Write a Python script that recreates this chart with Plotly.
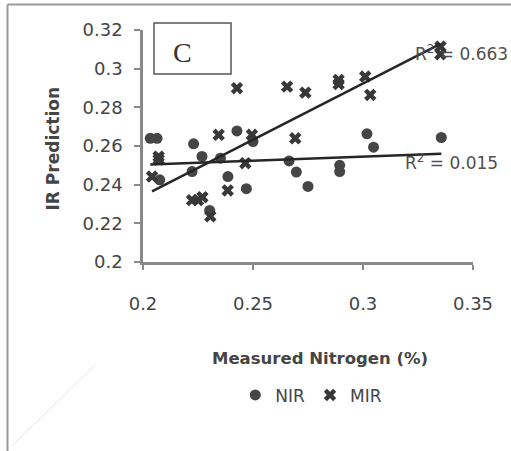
import numpy as np
import plotly.graph_objects as go

# ---- data ----
nir_x = [0.2033, 0.2064, 0.2076, 0.2223, 0.2230, 0.2268, 0.2303, 0.2352, 0.2386, 0.2427,
         0.2470, 0.2500, 0.2664, 0.2697, 0.2750, 0.2894, 0.2894, 0.3018, 0.3048, 0.3356]
nir_y = [0.2640, 0.2640, 0.2425, 0.2468, 0.2611, 0.2546, 0.2267, 0.2537, 0.2442, 0.2678,
         0.2379, 0.2623, 0.2523, 0.2465, 0.2391, 0.2500, 0.2468, 0.2663, 0.2594, 0.2644]

mir_x = [0.2041, 0.2071, 0.2071, 0.2223, 0.2250, 0.2270, 0.2306, 0.2344, 0.2385, 0.2427,
         0.2465, 0.2495, 0.2655, 0.2692, 0.2738, 0.2889, 0.2889, 0.3010, 0.3033, 0.3352, 0.3352]
mir_y = [0.2442, 0.2545, 0.2530, 0.2320, 0.2320, 0.2335, 0.2236, 0.2658, 0.2370, 0.2899,
         0.2511, 0.2658, 0.2907, 0.2640, 0.2876, 0.2942, 0.2920, 0.2959, 0.2864, 0.3114, 0.3075]

r2_labels = ["R<sup>2</sup> = 0.663", "R<sup>2</sup> = 0.015"]
x_ticks = [0.2, 0.25, 0.3, 0.35]
x_tick_text = ["0.2", "0.25", "0.3", "0.35"]
y_ticks = [0.2, 0.22, 0.24, 0.26, 0.28, 0.3, 0.32]
y_tick_text = ["0.2", "0.22", "0.24", "0.26", "0.28", "0.3", "0.32"]
panel_label = "C"
x_title = "Measured Nitrogen (%)"
y_title = "IR Prediction"

FONT = "DejaVu Sans"
TXT = "#454545"
AX = "#8a8a8a"
MK = "#454545"

def fit_line(xs, ys):
    xs = np.asarray(xs); ys = np.asarray(ys)
    m, b = np.polyfit(xs, ys, 1)
    xx = np.array([xs.min(), xs.max()])
    return xx, m * xx + b

fig = go.Figure()
fig.add_trace(go.Scatter(x=nir_x, y=nir_y, mode="markers", name="NIR",
                         marker=dict(symbol="circle", size=11, color=MK)))
fig.add_trace(go.Scatter(x=mir_x, y=mir_y, mode="markers", name="MIR",
                         marker=dict(symbol="x", size=11, color="#383838")))
lx, ly = fit_line(mir_x, mir_y)
fig.add_trace(go.Scatter(x=lx, y=ly, mode="lines", showlegend=False,
                         line=dict(color="#262626", width=2.5)))
lx, ly = fit_line(nir_x, nir_y)
fig.add_trace(go.Scatter(x=lx, y=ly, mode="lines", showlegend=False,
                         line=dict(color="#262626", width=2.5)))

fig.update_layout(
    width=511, height=451,
    margin=dict(l=143, r=38, t=30, b=189),
    paper_bgcolor="white", plot_bgcolor="white",
    font=dict(family=FONT, size=17, color=TXT),
    showlegend=True,
    legend=dict(orientation="h", x=0.51, xanchor="center", y=-0.575, yanchor="middle",
                font=dict(family=FONT, size=17, color=TXT), itemwidth=30,
                bgcolor="rgba(0,0,0,0)"),
    xaxis=dict(range=[0.2, 0.35], tickvals=x_ticks, ticktext=x_tick_text, automargin=False,
               showgrid=False, zeroline=False, showline=True, linecolor=AX, linewidth=2.5,
               ticks="outside", ticklen=5, tickwidth=2, tickcolor=AX,
               ticklabelstandoff=19, tickfont=dict(family=FONT, size=18, color=TXT)),
    yaxis=dict(range=[0.2, 0.32], tickvals=y_ticks, ticktext=y_tick_text, automargin=False,
               showgrid=False, zeroline=False, showline=True, linecolor=AX, linewidth=2.5,
               ticks="outside", ticklen=6, tickwidth=2, tickcolor=AX,
               ticklabelstandoff=8, tickfont=dict(family=FONT, size=18, color=TXT)),
)

annotations = [
    dict(text=f"<b>{x_title}</b>", xref="paper", yref="paper", x=0.535, y=-0.414,
         xanchor="center", yanchor="middle", showarrow=False,
         font=dict(family=FONT, size=16.5, color=TXT)),
    dict(text=f"<b>{y_title}</b>", xref="paper", yref="paper", x=-0.273, y=0.489,
         xanchor="center", yanchor="middle", showarrow=False, textangle=-90,
         font=dict(family=FONT, size=17, color=TXT)),
    dict(text=panel_label, xref="paper", yref="paper", x=0.121, y=0.901,
         xanchor="center", yanchor="middle", showarrow=False,
         font=dict(family="Liberation Serif", size=28, color="#333333")),
    dict(text=r2_labels[0], x=0.3229, y=0.3081, xanchor="left", yanchor="middle",
         showarrow=False, font=dict(family=FONT, size=17, color="#505050")),
    dict(text=r2_labels[1], x=0.3183, y=0.2517, xanchor="left", yanchor="middle",
         showarrow=False, font=dict(family=FONT, size=17, color="#505050")),
]
fig.update_layout(annotations=annotations)

shapes = [
    # panel label box
    dict(type="rect", xref="paper", yref="paper", x0=0.0333, x1=0.2667, y0=0.810, y1=1.030,
         line=dict(color="#555555", width=1.5), fillcolor="rgba(0,0,0,0)"),
    # outer frame (left and top)
    dict(type="line", xref="paper", yref="paper", x0=(7.5 - 143) / 330, x1=(7.5 - 143) / 330,
         y0=(262 - 451) / 232, y1=(262 - 4.5) / 232, line=dict(color="#9a9a9a", width=2)),
    dict(type="line", xref="paper", yref="paper", x0=(7.5 - 143) / 330, x1=(511 - 143) / 330,
         y0=(262 - 4.5) / 232, y1=(262 - 4.5) / 232, line=dict(color="#9a9a9a", width=2)),
    # faint scan streak
    dict(type="line", xref="paper", yref="paper", x0=(12 - 143) / 330, x1=(95 - 143) / 330,
         y0=(262 - 446) / 232, y1=(262 - 365) / 232, line=dict(color="#e4e4e4", width=1)),
]
fig.update_layout(shapes=shapes)

fig.write_html("out.html", config={"displayModeBar": False},
               post_script="document.body.style.margin='0px';")
